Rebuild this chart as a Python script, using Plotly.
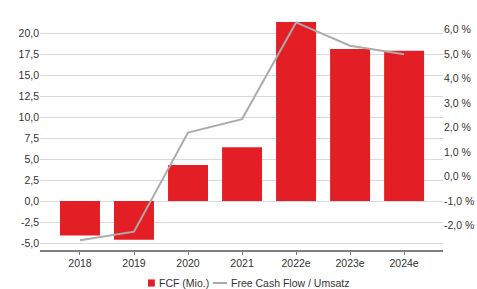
import plotly.graph_objects as go

categories = ["2018", "2019", "2020", "2021", "2022e", "2023e", "2024e"]
fcf_mio = [-4.1, -4.6, 4.3, 6.4, 21.3, 18.1, 17.9]
fcf_margin = [-2.6, -2.25, 1.8, 2.35, 6.3, 5.35, 5.0]

left_ticks = [-5, -2.5, 0, 2.5, 5, 7.5, 10, 12.5, 15, 17.5, 20]
left_labels = ["-5,0", "-2,5", "0,0", "2,5", "5,0", "7,5", "10,0", "12,5", "15,0", "17,5", "20,0"]
right_ticks = [-2, -1, 0, 1, 2, 3, 4, 5, 6]
right_labels = ["-2,0 %", "-1,0 %", "0,0 %", "1,0 %", "2,0 %", "3,0 %", "4,0 %", "5,0 %", "6,0 %"]
series_names = ["FCF (Mio.)", "Free Cash Flow / Umsatz"]

BAR_COLOR = "#E31E24"
LINE_COLOR = "#ABABAB"
TEXT_COLOR = "#333333"
font = "Liberation Sans, Arial, sans-serif"

fig = go.Figure()
fig.add_trace(go.Bar(
    x=categories, y=fcf_mio, name=series_names[0],
    marker=dict(color=BAR_COLOR, line=dict(width=0)),
    width=0.74, yaxis="y", showlegend=False,
))
fig.add_trace(go.Scatter(
    x=categories, y=fcf_margin, name=series_names[1],
    mode="lines", line=dict(color=LINE_COLOR, width=2), yaxis="y2", showlegend=False,
))

# compact legend (small square / short line like the reference)
shapes = [
    dict(type="rect", xref="paper", yref="paper", x0=0.268, x1=0.285, y0=-0.159, y1=-0.128,
         fillcolor=BAR_COLOR, line=dict(width=0)),
    dict(type="line", xref="paper", yref="paper", x0=0.429, x1=0.464, y0=-0.1435, y1=-0.1435,
         line=dict(color=LINE_COLOR, width=2)),
]
annotations = [
    dict(text=series_names[0], xref="paper", yref="paper", x=0.291, y=-0.1435,
         xanchor="left", yanchor="middle", showarrow=False,
         font=dict(size=10.5, color=TEXT_COLOR, family=font)),
    dict(text=series_names[1], xref="paper", yref="paper", x=0.469, y=-0.1435,
         xanchor="left", yanchor="middle", showarrow=False,
         font=dict(size=10.5, color=TEXT_COLOR, family=font)),
]

fig.update_layout(
    width=477, height=289,
    margin=dict(l=40, r=34, t=20, b=39, autoexpand=False),
    paper_bgcolor="white", plot_bgcolor="white",
    font=dict(family=font, size=10.5, color=TEXT_COLOR),
    showlegend=False,
    shapes=shapes, annotations=annotations,
    xaxis=dict(type="category", range=[-0.74, 6.72], showgrid=False, automargin=False,
               showline=True, linecolor="#7F7F7F", linewidth=1.5,
               ticks="outside", ticklen=3, tickcolor="#7F7F7F",
               tickfont=dict(size=10.5, color=TEXT_COLOR)),
    yaxis=dict(range=[-5.83, 21.55], tickvals=left_ticks, ticktext=left_labels,
               showgrid=True, gridcolor="#D9D9D9", gridwidth=1, zeroline=False, automargin=False,
               showline=False, ticks="", tickfont=dict(size=10.5, color=TEXT_COLOR)),
    yaxis2=dict(range=[-3.0, 6.4], tickvals=right_ticks, ticktext=right_labels,
                overlaying="y", side="right", showgrid=False, zeroline=False, automargin=False,
                showline=False, ticks="", tickfont=dict(size=10.5, color=TEXT_COLOR)),
)

fig.write_html("out.html", config={"displayModeBar": False},
               post_script="document.body.style.margin='0px';document.body.style.overflow='hidden';")
